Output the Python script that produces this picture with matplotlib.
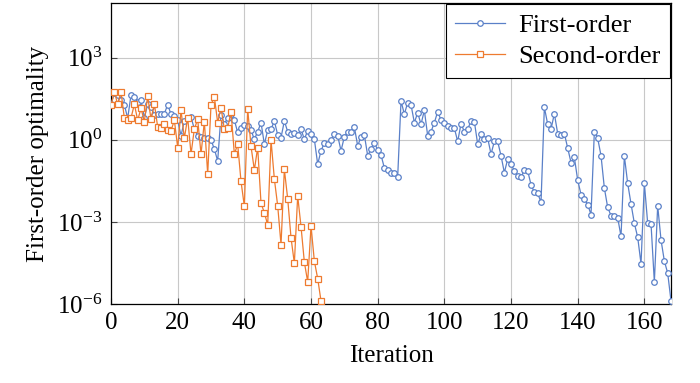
import numpy as np
import matplotlib
matplotlib.use('Agg')
from matplotlib import pyplot as plt

# values, as log10 of the optimality
first_order_log = [
    1.30, 1.70, 1.64, 1.45, 1.28, 0.79, 1.64, 1.57, 1.40, 1.45,
    0.81, 1.30, 1.20, 0.91, 0.96, 0.94, 0.96, 1.28, 0.94, 0.87,
    0.72, 0.15, 0.70, 0.81, 0.84, 0.39, 0.15, 0.10, 0.08, 0.05,
    0.00, -0.34, -0.77, 0.91, 0.59, 0.79, 0.94, 0.72, 0.27, 0.43,
    0.53, 0.50, 0.35, 0.02, 0.30, 0.63, -0.16, 0.35, 0.39, 0.69,
    0.18, 0.08, 0.69, 0.30, 0.23, 0.26, 0.18, 0.39, 0.02, 0.34,
    0.23, 0.02, -0.89, -0.40, -0.11, -0.14, -0.02, 0.23, 0.15, -0.40,
    0.11, 0.30, 0.30, 0.47, -0.22, 0.11, 0.18, -0.58, -0.34, -0.10,
    -0.37, -0.55, -1.03, -1.10, -1.23, -1.20, -1.35, 1.42, 0.94, 1.36,
    1.28, 0.63, 0.99, 0.57, 1.08, 0.15, 0.30, 0.63, 1.03, 0.72,
    0.63, 0.51, 0.43, 0.43, -0.06, 0.59, 0.30, 0.39, 0.69, 0.67,
    -0.16, 0.20, 0.02, 0.06, -0.52, -0.06, -0.06, -0.58, -1.20, -0.70,
    -0.89, -1.13, -1.31, -1.37, -1.10, -1.13, -1.64, -1.92, -1.96, -2.28,
    1.19, 0.57, 0.39, 0.96, 0.23, 0.18, 0.23, -0.30, -0.83, -0.64,
    -1.47, -2.00, -2.16, -2.37, -2.73, 0.30, 0.06, -0.58, -1.76, -2.47,
    -2.77, -2.77, -2.85, -3.53, -0.59, -1.59, -2.34, -3.05, -3.56, -4.53,
    -1.59, -3.05, -3.07, -5.20, -2.41, -3.66, -4.43, -4.87, -5.89,
]
second_order_log = [
    1.26, 1.76, 1.30, 1.76, 0.79, 0.72, 0.80, 1.30, 0.72, 1.15,
    0.67, 1.60, 0.75, 1.32, 0.47, 0.45, 0.57, 0.35, 0.33, 0.72,
    -0.28, 1.08, 0.06, 0.81, -0.52, 0.40, 0.75, -0.52, 0.67, -1.25,
    1.28, 1.57, 0.63, 1.18, 0.39, 0.43, 1.03, -0.52, -0.16, -1.52,
    -2.43, 1.13, -0.24, -1.10, -0.28, -2.32, -2.66, -3.11, -0.01, -1.43,
    -2.41, -3.83, -1.08, -2.15, -3.58, -4.51, -2.05, -3.17, -4.47, -5.19,
    -3.15, -4.43, -5.07, -5.89,
]
series_labels = ['First-order', 'Second-order']
x_ticks = [0, 20, 40, 60, 80, 100, 120, 140, 160]
y_ticks = [1e-6, 1e-3, 1e0, 1e3]

first_order = 10.0 ** np.array(first_order_log)
second_order = 10.0 ** np.array(second_order_log)

plt.rcParams['font.family'] = ['Liberation Serif', 'DejaVu Serif']
plt.rcParams['mathtext.fontset'] = 'stix'
plt.rcParams['font.size'] = 18

blue = '#5a80c8'
orange = '#ee7b30'

fig = plt.figure(figsize=(7, 3.83), dpi=100)
ax = fig.add_axes([0.1586, 0.2063, 0.8, 0.7857])

ax.plot(np.arange(len(first_order)), first_order, color=blue, lw=0.9,
        marker='o', ms=4.0, mfc='white', mec=blue, mew=0.9,
        label=series_labels[0], zorder=3)
ax.plot(np.arange(len(second_order)), second_order, color=orange, lw=0.9,
        marker='s', ms=3.8, mfc='white', mec=orange, mew=0.9,
        label=series_labels[1], zorder=3)

ax.set_yscale('log')
ax.set_xlim(0, 168)
ax.set_ylim(1e-6, 1e5)
ax.set_xticks(x_ticks)
ax.set_yticks(y_ticks)
ax.yaxis.set_minor_locator(matplotlib.ticker.NullLocator())
ax.grid(True, color='#c8c8c8', lw=0.8)
ax.set_axisbelow(True)
ax.tick_params(direction='in', length=4, width=0.8, color='#444444',
               labelsize=18, pad=6)
for s in ax.spines.values():
    s.set_linewidth(0.9)

ax.set_xlabel('Iteration', fontsize=18, labelpad=8)
ax.set_ylabel('First-order optimality', fontsize=18, labelpad=6)

leg = ax.legend(loc='upper right', fontsize=19, frameon=True, fancybox=False,
                edgecolor='black', framealpha=1, borderaxespad=0.05,
                handlelength=1.9, handletextpad=0.5, borderpad=0.35,
                labelspacing=0.3)
leg.get_frame().set_linewidth(0.8)

fig.savefig('out.png', dpi=100)
